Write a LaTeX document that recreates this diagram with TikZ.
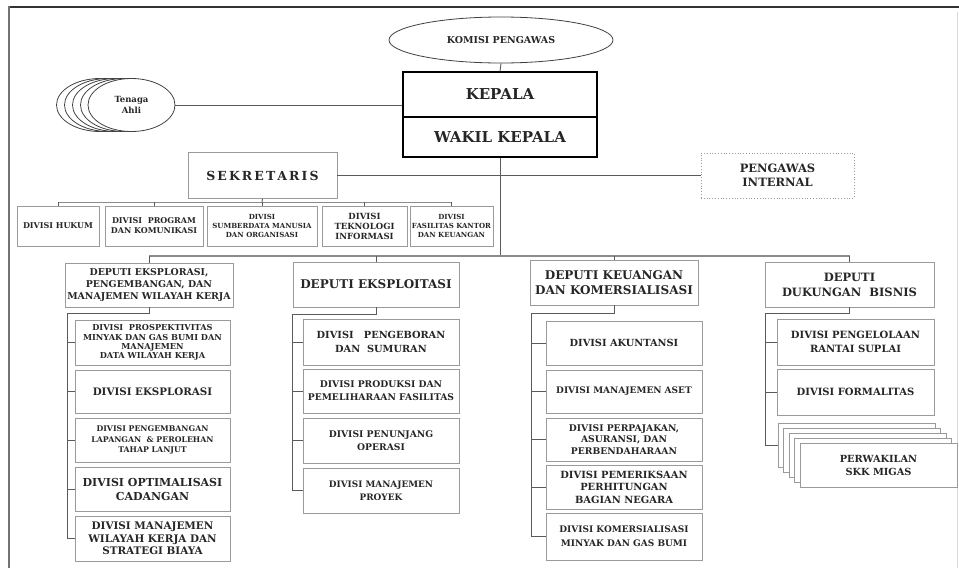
\documentclass[tikz,border=0pt]{standalone}
\usepackage{fontspec}
\setmainfont{DejaVu Serif}
\usetikzlibrary{shapes.geometric}
\newcommand\fsz[2]{\fontsize{#1}{#2}\selectfont}
\definecolor{txt}{HTML}{262626}
\definecolor{bxc}{HTML}{9A9A9A}
\definecolor{lnc}{HTML}{5A5A5A}
\tikzset{
  fs/.style 2 args={font=\bfseries\fsz{#1}{#2}},
  bx/.style={draw=bxc, line width=0.8pt, fill=white, rectangle, inner sep=1pt, align=center, text=txt},
  kbox/.style={draw=black, line width=1.5pt, fill=white, rectangle, inner sep=1pt, align=center, text=txt},
  ell/.style={draw=black!75, line width=0.8pt, fill=white, ellipse, inner sep=0pt, align=center, text=txt},
  ln/.style={draw=lnc, line width=0.9pt},
  bus/.style={draw=black!45, line width=1.3pt},
}
\begin{document}
\begin{tikzpicture}[x=1pt,y=-1pt]
\useasboundingbox (0,0) rectangle (959,568);
% frame
\draw[black!80, line width=2pt] (9,7) -- (959,7);
\draw[black!55, line width=2pt] (9,6) -- (9,568);
\draw[black!15, line width=0.6pt] (957,12) -- (957,568);

% top
\node[ell, fs={9.5}{11}, minimum width=224pt, minimum height=46pt] (kom) at (501,40) {KOMISI PENGAWAS};
\node[kbox, fs={15}{17}, minimum width=194pt, minimum height=45pt] (kep) at (500,94.5) {KEPALA};
\node[kbox, fs={15}{17}, minimum width=194pt, minimum height=40pt] (wak) at (500,137) {WAKIL KEPALA};
\draw[ln] (kom.south) -- (kep.north);

% tenaga ahli
\foreach \i/\cx in {4/100,3/108,2/116,1/124}{
  \node[ell, minimum width=87pt, minimum height=53pt] (ta\i) at (\cx,105) {};
}
\node[ell, fs={8.5}{10.5}, minimum width=87pt, minimum height=53pt] (ta) at (131.5,105) {Tenaga\\Ahli};
\draw[ln] (ta.east) -- (ta.east -| kep.west);

% sekretaris and pengawas internal
\node[bx, fs={12.5}{14}, minimum width=149pt, minimum height=46pt] (sek) at (262.5,175.5) {S\,E\,K\,R\,E\,T\,A\,R\,I\,S};
\node[bx, fs={11.5}{14}, dotted, minimum width=153pt, minimum height=45pt] (pi) at (777.5,175.5) {PENGAWAS\\INTERNAL};
\draw[ln] (sek.east) -- (pi.west);

% sekretaris divisions
\coordinate (sbus) at (262,202);
\node[bx, fs={8}{9.5}, minimum width=82pt, minimum height=40pt] (hk) at (58,226) {DIVISI HUKUM};
\node[bx, fs={8}{10}, minimum width=98pt, minimum height=40pt] (pk) at (154,226) {DIVISI\ \ PROGRAM\\DAN KOMUNIKASI};
\node[bx, fs={7}{9}, minimum width=110pt, minimum height=40pt] (sdm) at (262,226) {DIVISI\\SUMBERDATA MANUSIA\\DAN ORGANISASI};
\node[bx, fs={8.5}{10}, minimum width=85pt, minimum height=40pt] (ti) at (364.5,226) {DIVISI\\TEKNOLOGI\\INFORMASI};
\node[bx, fs={7}{9}, minimum width=83pt, minimum height=40pt] (fk) at (451.5,226) {DIVISI\\FASILITAS KANTOR\\DAN KEUANGAN};
\draw[ln] (sek.south) -- (sbus);
\draw[bus, line width=1pt] (hk.north |- sbus) -- (fk.north |- sbus);
\foreach \n in {hk,pk,sdm,ti,fk}{ \draw[ln] (\n.north) -- (\n.north |- sbus); }

% main spine and deputy bus
\coordinate (dbus) at (500,256);
\draw[ln] (wak.south) -- (dbus);

\node[bx, fs={9.4}{12}, minimum width=168pt, minimum height=44pt] (d1) at (149,285) {DEPUTI EKSPLORASI,\\PENGEMBANGAN, DAN\\MANAJEMEN WILAYAH KERJA};
\node[bx, fs={12}{14}, minimum width=166pt, minimum height=45pt] (d2) at (376,284.5) {DEPUTI EKSPLOITASI};
\node[bx, fs={12}{15}, minimum width=168pt, minimum height=45pt] (d3) at (614,282.5) {DEPUTI KEUANGAN\\DAN KOMERSIALISASI};
\node[bx, fs={11.5}{15}, minimum width=169pt, minimum height=45pt] (d4) at (849.5,284.5) {DEPUTI\\DUKUNGAN\ \ BISNIS};
\draw[bus] (d1.north |- dbus) -- (d4.north |- dbus);
\foreach \n in {d1,d2,d3,d4}{ \draw[ln] (\n.north) -- (\n.north |- dbus); }

% deputi 1 divisions
\node[bx, fs={8.2}{9.3}, minimum width=155pt, minimum height=45pt] (a1) at (152.5,342.5) {DIVISI\ \ PROSPEKTIVITAS\\MINYAK DAN GAS BUMI DAN\\MANAJEMEN\\DATA WILAYAH KERJA};
\node[bx, fs={10.3}{12}, minimum width=155pt, minimum height=43pt] (a2) at (152.5,391.5) {DIVISI EKSPLORASI};
\node[bx, fs={7.8}{10.5}, minimum width=155pt, minimum height=44pt] (a3) at (152.5,440) {DIVISI PENGEMBANGAN\\LAPANGAN\ \ \& PEROLEHAN\\TAHAP LANJUT};
\node[bx, fs={11}{14}, minimum width=155pt, minimum height=44pt] (a4) at (152.5,489) {DIVISI OPTIMALISASI\\CADANGAN};
\node[bx, fs={10.4}{12.5}, minimum width=155pt, minimum height=45pt] (a5) at (152.5,538.5) {DIVISI MANAJEMEN\\WILAYAH KERJA DAN\\STRATEGI BIAYA};
\coordinate (s1) at (67,313);
\draw[ln] (d1.south) |- (s1) -- (s1 |- a5.west);
\foreach \n in {a1,a2,a3,a4,a5}{ \draw[ln] (s1 |- \n.west) -- (\n.west); }

% deputi 2 divisions
\node[bx, fs={9.8}{14}, minimum width=156pt, minimum height=46pt] (b1) at (381,342) {DIVISI\ \ \ PENGEBORAN\\DAN\ \ SUMURAN};
\node[bx, fs={9.2}{13}, minimum width=156pt, minimum height=44pt] (b2) at (381,391) {DIVISI PRODUKSI DAN\\PEMELIHARAAN FASILITAS};
\node[bx, fs={9.2}{13}, minimum width=156pt, minimum height=45pt] (b3) at (381,440.5) {DIVISI PENUNJANG\\OPERASI};
\node[bx, fs={8.9}{13}, minimum width=156pt, minimum height=45pt] (b4) at (381,490.5) {DIVISI MANAJEMEN\\PROYEK};
\coordinate (s2) at (292,314);
\draw[ln] (d2.south) |- (s2) -- (s2 |- b4.west);
\foreach \n in {b1,b2,b3,b4}{ \draw[ln] (s2 |- \n.west) -- (\n.west); }

% deputi 3 divisions
\node[bx, fs={9.8}{11}, minimum width=156pt, minimum height=44pt] (c1) at (624,343) {DIVISI AKUNTANSI};
\node[bx, fs={9}{11}, minimum width=156pt, minimum height=43pt] (c2) at (624,391.5) {DIVISI MANAJEMEN ASET};
\node[bx, fs={9.2}{11.5}, minimum width=156pt, minimum height=43pt] (c3) at (624,439.5) {DIVISI PERPAJAKAN,\\ASURANSI, DAN\\PERBENDAHARAAN};
\node[bx, fs={9.9}{12.5}, minimum width=156pt, minimum height=44pt] (c4) at (624,487) {DIVISI PEMERIKSAAN\\PERHITUNGAN\\BAGIAN NEGARA};
\node[bx, fs={9}{14}, minimum width=156pt, minimum height=47pt] (c5) at (624,536.5) {DIVISI KOMERSIALISASI\\MINYAK DAN GAS BUMI};
\coordinate (s3) at (531,313);
\draw[ln] (d3.south) |- (s3) -- (s3 |- c5.west);
\foreach \n in {c1,c2,c3,c4,c5}{ \draw[ln] (s3 |- \n.west) -- (\n.west); }

% deputi 4 divisions
\node[bx, fs={10}{14}, minimum width=157pt, minimum height=46pt] (e1) at (855.5,342) {DIVISI PENGELOLAAN\\RANTAI SUPLAI};
\node[bx, fs={10}{12}, minimum width=157pt, minimum height=46pt] (e2) at (855.5,392) {DIVISI FORMALITAS};
\foreach \k in {0,1,2,3}{
  \node[bx, minimum width=157pt, minimum height=44pt] (pw\k) at ({856.5+5.5*\k},{445+5*\k}) {};
}
\node[bx, fs={9.8}{13}, minimum width=157pt, minimum height=44pt] (pw) at (878.5,465) {PERWAKILAN\\SKK MIGAS};
\coordinate (s4) at (765,313);
\draw[ln] (d4.south) |- (s4) -- (s4 |- pw0.west);
\foreach \n in {e1,e2,pw0}{ \draw[ln] (s4 |- \n.west) -- (\n.west); }
\end{tikzpicture}
\end{document}
